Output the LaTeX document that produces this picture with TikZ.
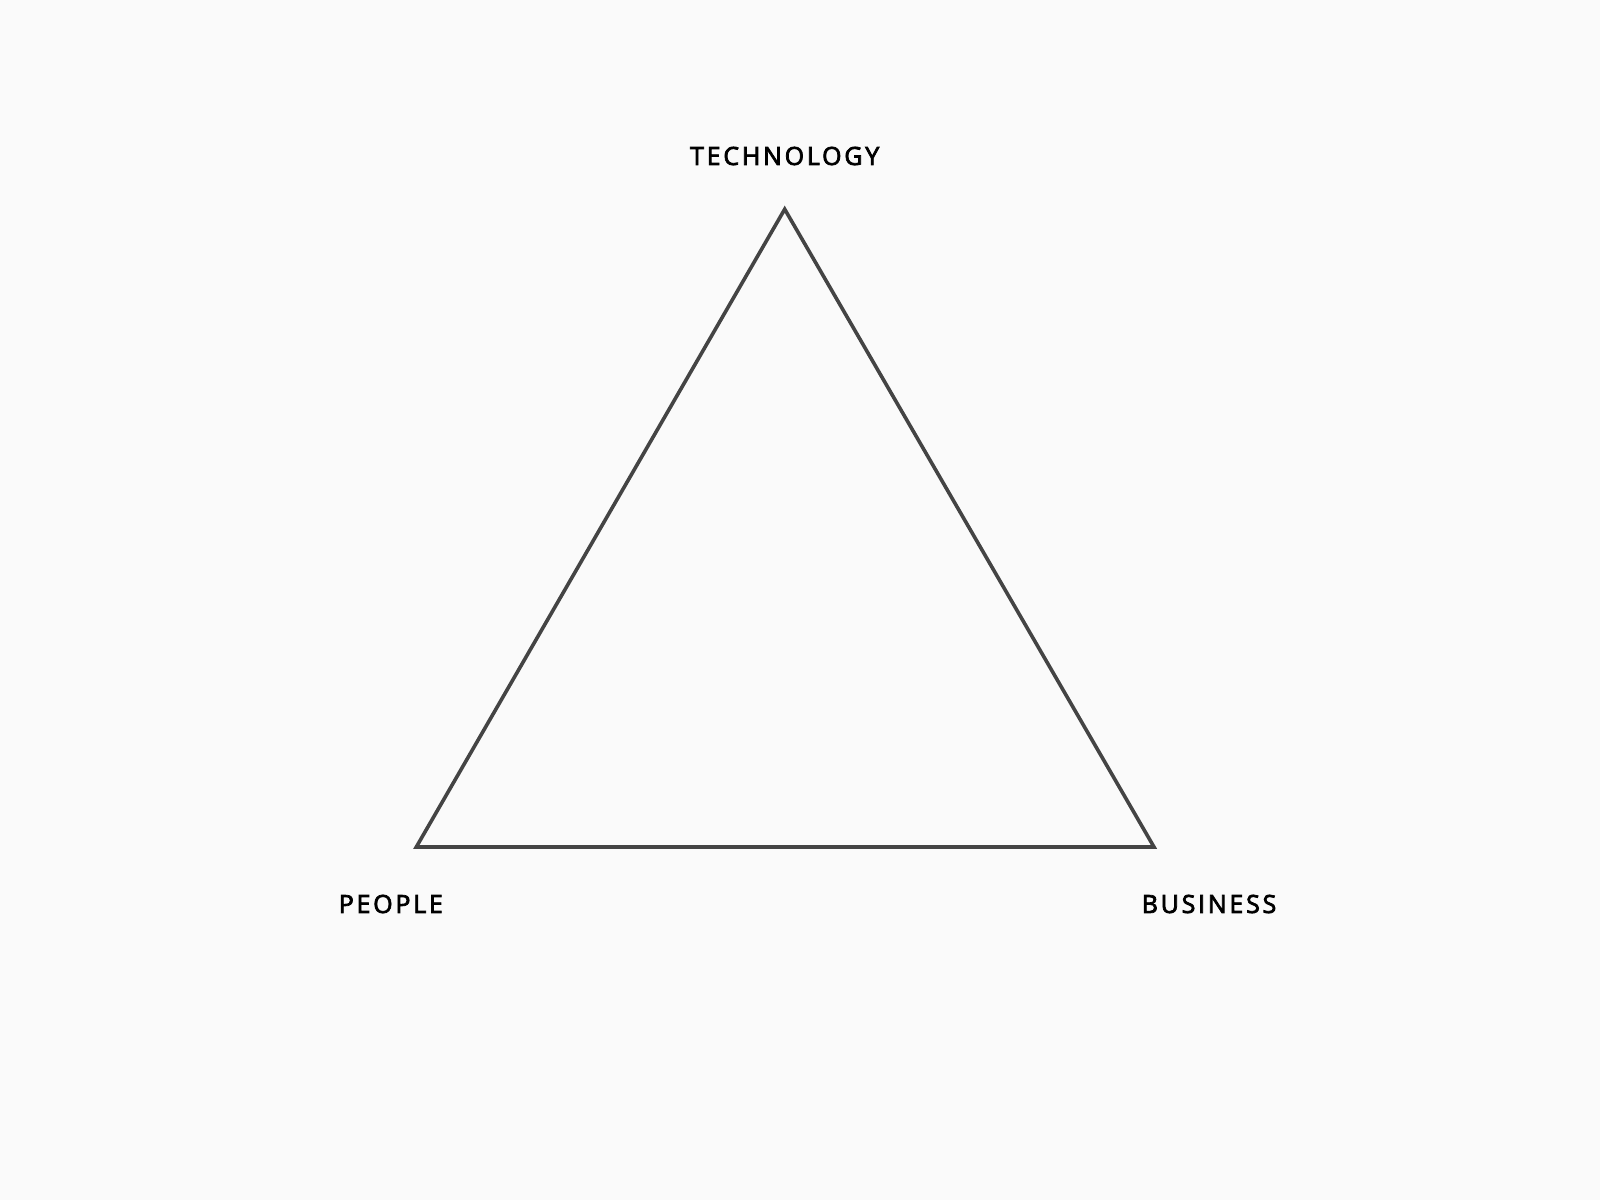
\documentclass[tikz,border=0pt]{standalone}
\usepackage{fontspec}
\newfontfamily\labelfont[LetterSpace=11, FakeBold=3]{Open Sans}
\usetikzlibrary{positioning}
\definecolor{paper}{HTML}{FAFAFA}
\definecolor{edgegray}{HTML}{444444}

\begin{document}
\begin{tikzpicture}[x=1pt, y=-1pt,
		corner/.style={font=\labelfont\fontsize{25}{30}\selectfont, text=black, inner sep=0pt},
		side/.style={draw=edgegray, line width=3.6pt, line join=miter}]
		\fill[paper] (0,0) rectangle (1600,1200);
		\useasboundingbox (0,0) rectangle (1600,1200);
		
		\coordinate (top) at (784.7,209.2);
		\coordinate (left) at (416.3,847);
		\coordinate (right) at (1154,847);
		
		\node[corner] (tech) at (784.7,156) {TECHNOLOGY};
		\node[corner] (people) at (390.8,904) {PEOPLE};
		\node[corner] (business) at (1209,904) {BUSINESS};
		
		\draw[side] (top) -- (right) -- (left) -- cycle;
	\end{tikzpicture}
\end{document}
